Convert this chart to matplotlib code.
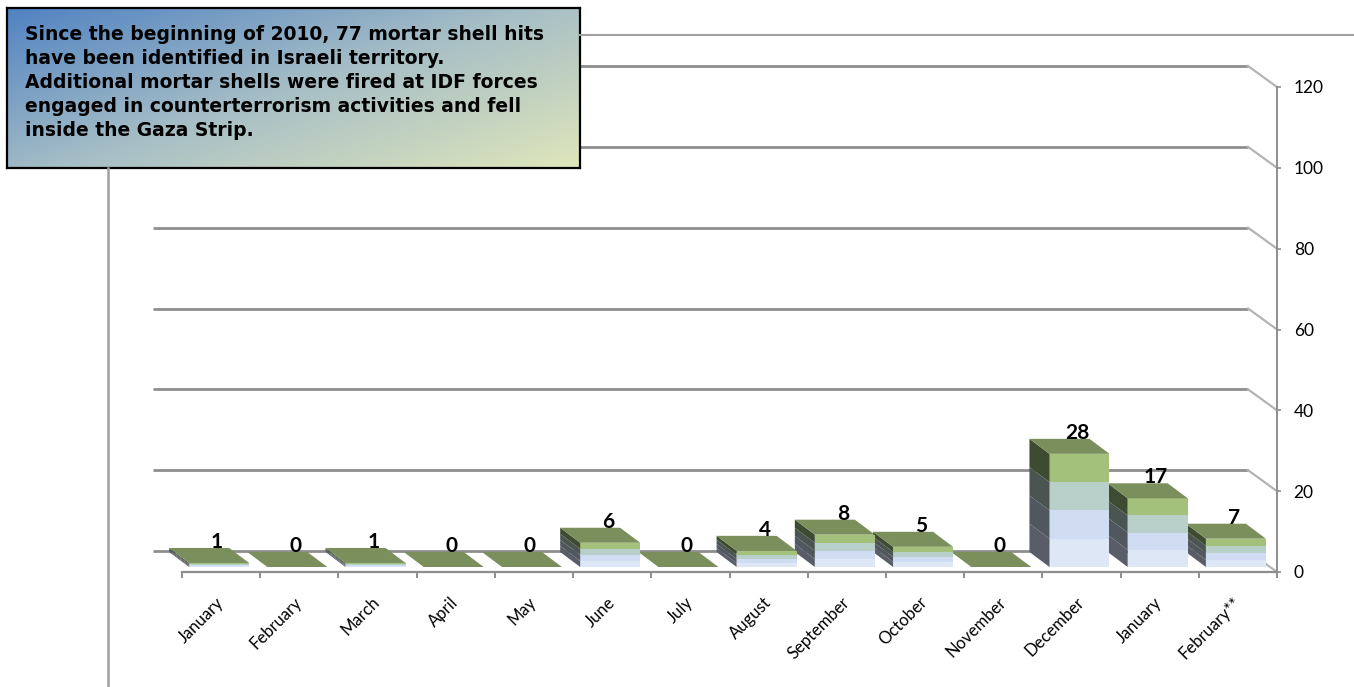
import numpy as np
import matplotlib
matplotlib.use("Agg")
import matplotlib.pyplot as plt
from matplotlib.patches import Polygon
from matplotlib.lines import Line2D

# ---------------- data ----------------
months = ["January", "February", "March", "April", "May", "June", "July",
          "August", "September", "October", "November", "December",
          "January", "February**"]
hits = [1, 0, 1, 0, 0, 6, 0, 4, 8, 5, 0, 28, 17, 7]
y_ticks = [0, 20, 40, 60, 80, 100, 120]
note = ("Since the beginning of 2010, 77 mortar shell hits\n"
        "have been identified in Israeli territory.\n"
        "Additional mortar shells were fired at IDF forces\n"
        "engaged in counterterrorism activities and fell\n"
        "inside the Gaza Strip.")

# ---------------- styles ----------------
front_cols = ['#dde7f6', '#cfdcf2', '#b9cfc9', '#a3c17b']
side_cols = ['#585d68', '#51575f', '#4a5551', '#3f4b31']
top_col = '#7b8f5d'
grid_col = '#8e8e8e'

W, H = 1354, 687
fig = plt.figure(figsize=(W / 100, H / 100), dpi=100)

x0px, x1px = 182, 1277
y0px, y1px = 572, 87
ax = fig.add_axes([x0px / W, (H - y0px) / H, (x1px - x0px) / W, (y0px - y1px) / H])
n = len(months)
ax.set_xlim(-0.5, n - 0.5)
ax.set_ylim(0, y_ticks[-1])
ax.patch.set_visible(False)
ppx = (x1px - x0px) / n
ppy = (y0px - y1px) / y_ticks[-1]


def cx(px):
    return px / ppx


def cy(px):
    return px / ppy


# back wall gridlines with the 3D side bend
wdx, wdy = cx(29), cy(21)
for v in y_ticks:
    yb = v + wdy
    xl = -0.5 - wdx
    xr = n - 0.5 - wdx
    ax.plot([xl, xr], [yb, yb], color=grid_col, lw=2.0, clip_on=False,
            zorder=1, solid_capstyle='butt')
    ax.plot([xr, n - 0.5], [yb, v], color='#b4b4b4', lw=1.6, clip_on=False,
            zorder=1)

# 3D bars
base = cy(5)
hw = cx(30)
shift = -cx(2)
ddx, ddy = -cx(20), cy(15)
for i in range(n - 1, -1, -1):
    v = hits[i]
    z = 10 + (n - i) * 3
    xl, xr = i - hw + shift, i + hw + shift
    if v > 0:
        seg = v / 4.0
        for k in range(4):
            b0 = base + k * seg
            b1 = base + (k + 1) * seg
            ax.add_patch(Polygon([[xl, b0], [xr, b0], [xr, b1], [xl, b1]],
                                 closed=True, facecolor=front_cols[k],
                                 edgecolor='none', zorder=z, clip_on=False))
            ax.add_patch(Polygon([[xl, b0], [xl, b1], [xl + ddx, b1 + ddy],
                                  [xl + ddx, b0 + ddy]],
                                 closed=True, facecolor=side_cols[k],
                                 edgecolor='none', zorder=z, clip_on=False))
    t = base + v
    ax.add_patch(Polygon([[xl, t], [xr, t], [xr + ddx, t + ddy], [xl + ddx, t + ddy]],
                         closed=True, facecolor=top_col, edgecolor='none',
                         zorder=z + 1, clip_on=False))
    ax.text(i - cx(4), t + ddy, str(v), ha='center', va='baseline',
            fontsize=15, fontweight='bold', family='Lato', zorder=60)

# axes styling
for s in ['top', 'left']:
    ax.spines[s].set_visible(False)
ax.spines['bottom'].set_color(grid_col)
ax.spines['bottom'].set_linewidth(1.6)
ax.spines['right'].set_color(grid_col)
ax.spines['right'].set_linewidth(1.4)

ax.set_xticks(range(n))
ax.set_xticklabels(months, rotation=45, ha='right', va='center',
                   rotation_mode='anchor', fontsize=12, family='Lato')
ax.set_xticks(np.arange(-0.5, n), minor=True)
ax.tick_params(axis='x', which='major', length=0, pad=20)
ax.tick_params(axis='x', which='minor', length=4, width=1.4, color=grid_col,
               direction='out')

ax.yaxis.tick_right()
ax.set_yticks(y_ticks)
ax.set_yticklabels([str(t) for t in y_ticks], family='Lato', fontsize=12.5)
ax.tick_params(axis='y', length=3, width=1.2, color=grid_col, pad=9)

# decorative frame lines
fig.add_artist(Line2D([580 / W, 1.0], [(H - 35) / H] * 2, transform=fig.transFigure,
                      color='#a0a0a0', lw=1.5))
fig.add_artist(Line2D([108 / W] * 2, [0, (H - 168) / H], transform=fig.transFigure,
                      color='#a0a0a0', lw=1.8))

# annotation box with gradient
bx0, by0, bw, bh = 7, 8, 573, 160
bax = fig.add_axes([bx0 / W, (H - by0 - bh) / H, bw / W, bh / H])
gx, gy = np.meshgrid(np.linspace(0, 1, 300), np.linspace(0, 1, 100))
tt = np.clip(0.55 * gx + 0.45 * gy, 0, 1)
c0 = np.array([0x50, 0x82, 0xc2]) / 255
c1 = np.array([0xa6, 0xbe, 0xc6]) / 255
c2 = np.array([0xdf, 0xe6, 0xbb]) / 255
img = np.where(tt[..., None] < 0.5,
               c0 + (c1 - c0) * (tt[..., None] / 0.5),
               c1 + (c2 - c1) * ((tt[..., None] - 0.5) / 0.5))
bax.imshow(img, extent=[0, 1, 1, 0], aspect='auto', interpolation='bilinear')
bax.set_xlim(0, 1)
bax.set_ylim(1, 0)
bax.set_xticks([])
bax.set_yticks([])
for s in bax.spines.values():
    s.set_color('black')
    s.set_linewidth(1.6)
fs = 13.5
bax.text(18 / bw, 1 - 17 / bh, note, ha='left', va='top', fontsize=fs,
         fontweight='bold', family='DejaVu Sans', color='black',
         linespacing=1.33, transform=bax.transAxes, zorder=5)

fig.savefig("out.png", dpi=100)
